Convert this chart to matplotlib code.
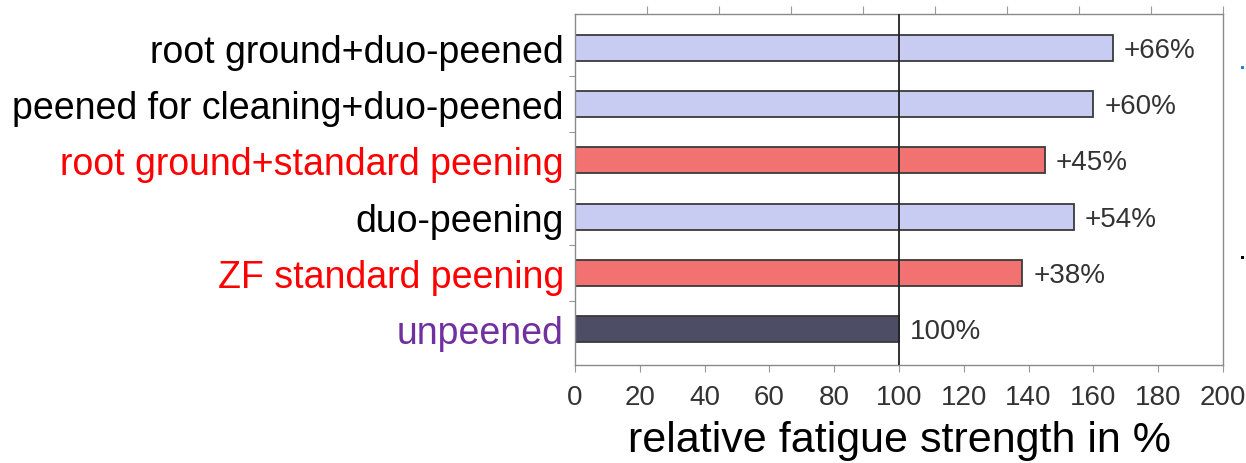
import numpy as np
import matplotlib
matplotlib.use("Agg")
import matplotlib.pyplot as plt
from matplotlib.patches import Rectangle

plt.rcParams["font.family"] = ["Liberation Sans", "DejaVu Sans"]

# Treatments, top to bottom
categories = [
    "root ground+duo-peened",
    "peened for cleaning+duo-peened",
    "root ground+standard peening",
    "duo-peening",
    "ZF standard peening",
    "unpeened",
]
# Relative fatigue strength in % (unpeened = 100)
values = [166, 160, 145, 154, 138, 100]
bar_colors = ["#c9ccf2", "#c9ccf2", "#f27272", "#c9ccf2", "#f27272", "#4d4d66"]
label_colors = ["black", "black", "#ff0000", "black", "#ff0000", "#7030a0"]
xticks = [0, 20, 40, 60, 80, 100, 120, 140, 160, 180, 200]

fig = plt.figure(figsize=(12.46, 4.64), dpi=100)
ax = fig.add_axes([575 / 1246, 1 - 366 / 464, (1223 - 575) / 1246, (366 - 15) / 464])

n = len(categories)
ypos = np.arange(n)[::-1]
ax.barh(ypos, values, height=0.46, color=bar_colors, edgecolor="#3a3a3a",
        linewidth=1.3, zorder=2)

# reference line at 100 %
ax.axvline(100, color="#222222", linewidth=1.3, zorder=3)

for y, v in zip(ypos, values):
    txt = f"+{v - 100}%" if v > 100 else f"{v}%"
    ax.annotate(txt, xy=(v, y), xytext=(8, -1.5), textcoords="offset points",
                ha="left", va="center", fontsize=20, color="#333333")

ax.set_xlim(0, 200)
ax.set_ylim(-0.64, n - 1 + 0.605)

ax.set_xticks(xticks)
ax.tick_params(axis="x", direction="out", length=5, width=0.8, color="#999999",
               labelsize=20, labelcolor="#333333", pad=9)

ax.set_yticks(ypos)
ax.set_yticklabels(categories, fontsize=27)
for lbl, c in zip(ax.get_yticklabels(), label_colors):
    lbl.set_color(c)
ax.tick_params(axis="y", which="major", length=0, pad=8)
ax.set_yticks(np.arange(n - 1) + 0.5, minor=True)
ax.tick_params(axis="y", which="minor", direction="out", length=4, width=0.8,
               color="#999999")

# faint ticks along the top frame
top = ax.secondary_xaxis("top")
top.set_xticks(np.linspace(0, 200, 10)[1:])
top.tick_params(direction="out", length=6, width=0.8, color="#999999",
                labeltop=False)
top.spines["top"].set_visible(False)

for s in ax.spines.values():
    s.set_color("#8a8a8a")
    s.set_linewidth(1.0)

ax.set_xlabel("relative fatigue strength in %", fontsize=31, color="black",
              labelpad=7)

# small bullet remnants on the right edge
fig.add_artist(Rectangle((1241 / 1246, 1 - 70 / 464), 3 / 1246, 3 / 464,
                         transform=fig.transFigure, color="#2a7fd0", lw=0))
fig.add_artist(Rectangle((1241 / 1246, 1 - 260 / 464), 3 / 1246, 3 / 464,
                         transform=fig.transFigure, color="black", lw=0))

fig.savefig("out.png", dpi=100)
